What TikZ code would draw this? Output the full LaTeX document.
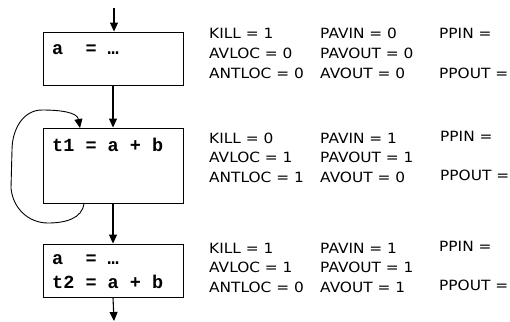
\documentclass[tikz,border=0pt]{standalone}
\usepackage{fontspec}
\setmonofont{Liberation Mono}
\newfontfamily\labfont[FakeStretch=1.09]{DejaVu Sans}
\usetikzlibrary{arrows.meta}
\begin{document}
\begin{tikzpicture}[x=1pt,y=-1pt,
  blk/.style={draw,line width=0.9pt,minimum width=140pt,inner sep=0pt},
  code/.style={anchor=west,inner sep=0pt,font=\fontsize{18.5}{22}\ttfamily\bfseries},
  lab/.style={anchor=west,inner sep=0pt,font=\fontsize{14.1}{16}\labfont},
  arr/.style={line width=1.1pt,-{Triangle[length=9pt,width=8pt]}}]
\useasboundingbox (0,0) rectangle (510,321);
% boxes
\node[blk,minimum height=53pt] (b1) at (113,58.5) {};
\node[blk,minimum height=75pt] (b2) at (113,165.5) {};
\node[blk,minimum height=53pt] (b3) at (113,270.5) {};
% code
\node[code] (c1) at (52,50) {a\ \ =\ …};
\node[code] (c2) at (52,145) {t1\ =\ a\ +\ b};
\node[code] (c3) at (52,260) {a\ \ =\ …};
\node[code] (c4) at (52,282) {t2\ =\ a\ +\ b};
% arrows
\coordinate (in) at (114,8);
\coordinate (out) at (114,321);
\draw[arr] (in) -- (b1.north -| in);
\draw[arr] (b1.south) -- (b2.north);
\draw[arr] (b2.south) -- (b3.north);
\draw[arr] (b3.south) -- (out);
% loop
\coordinate (ls) at (84,203);
\coordinate (le) at (80,128);
\draw[line width=0.9pt,-{Triangle[length=9pt,width=8pt]}] (ls) to[out=-95,in=0] (48,223)
  to[out=180,in=-85] (11,188) -- (12,150) to[out=90,in=180] (42,110) to[out=0,in=100] (le);
% labels block 1
\node[lab] (k1) at (209,33) {KILL = 1};
\node[lab] (av1) at (209,53) {AVLOC = 0};
\node[lab] (an1) at (209,73) {ANTLOC = 0};
\node[lab] (pi1) at (320,33) {PAVIN = 0};
\node[lab] (po1) at (320,53) {PAVOUT = 0};
\node[lab] (ao1) at (320,73) {AVOUT = 0};
\node[lab] (pp1) at (439,33) {PPIN =};
\node[lab] (ppo1) at (439,73) {PPOUT =};
% block 2
\node[lab] (k2) at (209,138) {KILL = 0};
\node[lab] (av2) at (209,157) {AVLOC = 1};
\node[lab] (an2) at (209,177) {ANTLOC = 1};
\node[lab] (pi2) at (320,138) {PAVIN = 1};
\node[lab] (po2) at (320,157) {PAVOUT = 1};
\node[lab] (ao2) at (320,177) {AVOUT = 0};
\node[lab] (pp2) at (440,136) {PPIN =};
\node[lab] (ppo2) at (440,175) {PPOUT =};
% block 3
\node[lab] (k3) at (209,248) {KILL = 1};
\node[lab] (av3) at (209,267) {AVLOC = 1};
\node[lab] (an3) at (209,287) {ANTLOC = 0};
\node[lab] (pi3) at (320,248) {PAVIN = 1};
\node[lab] (po3) at (320,267) {PAVOUT = 1};
\node[lab] (ao3) at (320,287) {AVOUT = 1};
\node[lab] (pp3) at (439,246) {PPIN =};
\node[lab] (ppo3) at (439,285) {PPOUT =};
\end{tikzpicture}
\end{document}
